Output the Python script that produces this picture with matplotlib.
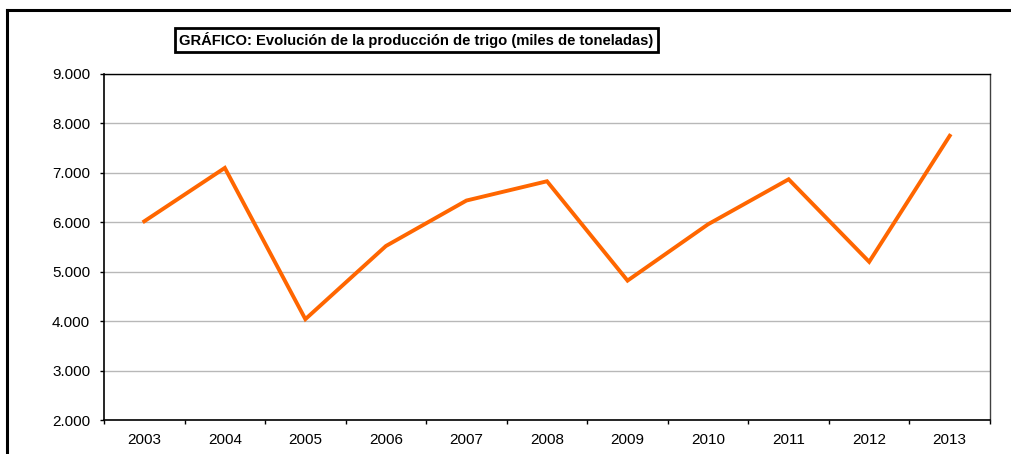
import numpy as np
import matplotlib
matplotlib.use('Agg')
import matplotlib.pyplot as plt
from matplotlib.lines import Line2D
from matplotlib.ticker import FuncFormatter

plt.rcParams['font.family'] = ['Liberation Sans', 'DejaVu Sans']

years = ['2003', '2004', '2005', '2006', '2007', '2008', '2009', '2010', '2011', '2012', '2013']
produccion = [6020, 7100, 4040, 5520, 6440, 6830, 4820, 5960, 6870, 5200, 7750]
titulo = 'GRÁFICO: Evolución de la producción de trigo (miles de toneladas)'

W, H = 1012, 454
fig = plt.figure(figsize=(W / 100, H / 100), dpi=100)
ax = fig.add_axes([104 / W, 1 - 420 / H, (990 - 104) / W, (420 - 74) / H])

x = np.arange(len(years))
ax.plot(x, produccion, color='#FF6600', lw=2.8, solid_joinstyle='miter', zorder=3)

ax.set_xlim(-0.5, len(years) - 0.5)
ax.set_ylim(2000, 9000)
ax.set_yticks(np.arange(2000, 9001, 1000))
ax.yaxis.set_major_formatter(FuncFormatter(lambda v, p: f'{int(v):,}'.replace(',', '.')))
ax.set_xticks(x)
ax.set_xticklabels(years)
ax.set_xticks(np.arange(-0.5, len(years), 1), minor=True)

ax.grid(axis='y', color='#b8b8b8', lw=1, zorder=1)
ax.tick_params(axis='y', length=3, width=1, pad=7, labelsize=11, colors='black')
ax.tick_params(axis='x', which='major', length=0, pad=9, labelsize=11)
ax.tick_params(axis='x', which='minor', length=3, width=1)

for s in ['left', 'bottom']:
    ax.spines[s].set_color('black')
    ax.spines[s].set_linewidth(1.2)
ax.spines['top'].set_color('black')
ax.spines['top'].set_linewidth(1)
ax.spines['right'].set_color('#404040')
ax.spines['right'].set_linewidth(1)

fig.text(179 / W, 1 - 40 / H, titulo, fontsize=10.6, fontweight='bold', va='center', ha='left',
         bbox=dict(boxstyle='square,pad=0.3', fc='white', ec='black', lw=2))

# outer frame (top and left edges)
fig.add_artist(Line2D([7 / W, 1], [1 - 10 / H, 1 - 10 / H], color='black', lw=2.2, transform=fig.transFigure))
fig.add_artist(Line2D([7 / W, 7 / W], [0, 1 - 10 / H], color='black', lw=2.2, transform=fig.transFigure))

fig.savefig('out.png', dpi=100)
